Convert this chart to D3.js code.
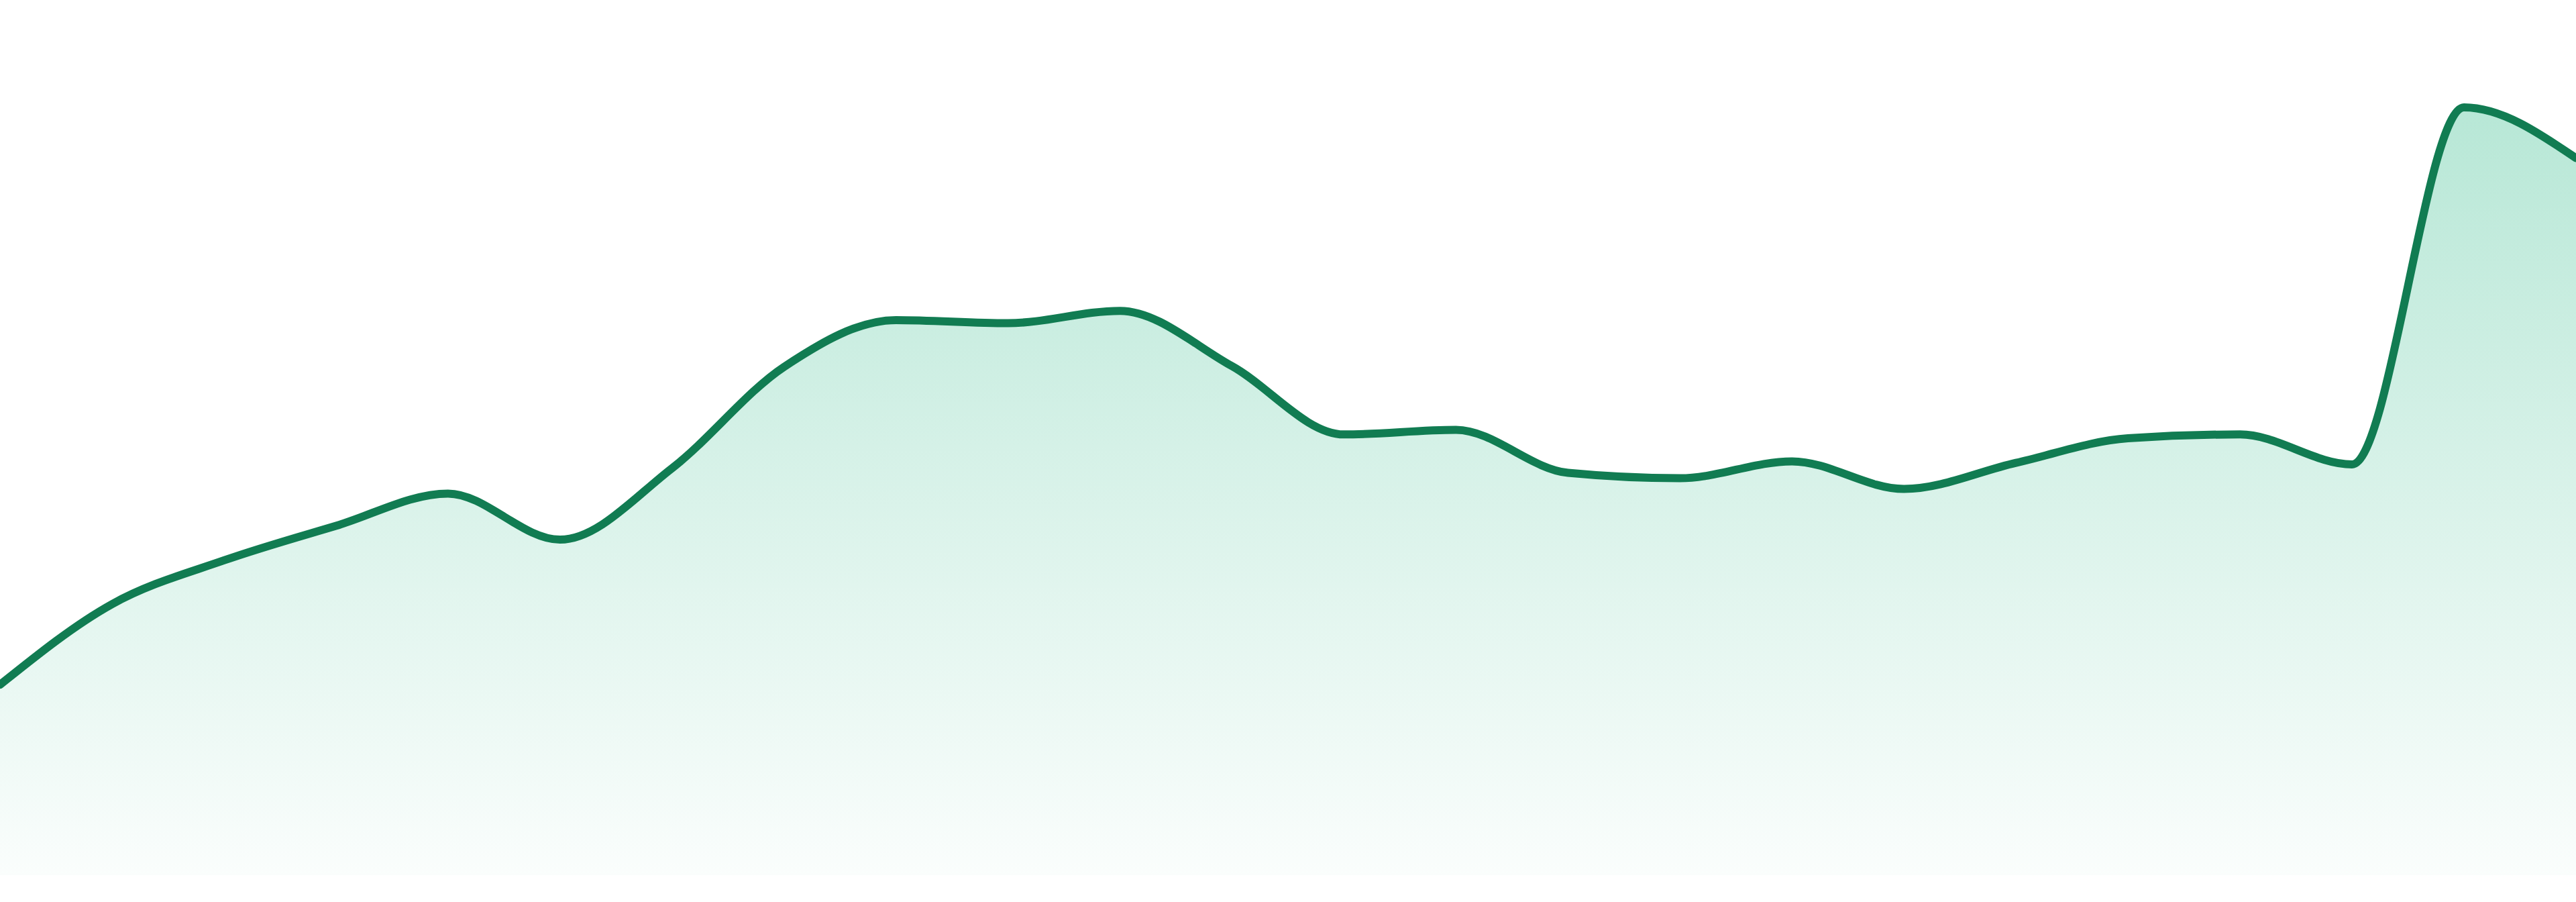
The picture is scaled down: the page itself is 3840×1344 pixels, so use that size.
<!DOCTYPE html>
<html>
<head>
<meta charset="utf-8">
<script src="https://cdn.jsdelivr.net/npm/d3@7"></script>
<style>
  html, body { margin: 0; padding: 0; background: #fff; }
  svg { display: block; }
</style>
</head>
<body>
<svg width="3840" height="1344"></svg>
<script>
// one value per period
var periods = d3.range(24);
var values = [24.8, 35.3, 41.0, 45.5, 49.7, 43.7, 53.0, 66.2, 72.3, 71.9, 73.5, 66.3,
              57.4, 58.0, 52.4, 51.7, 53.9, 50.3, 53.7, 56.9, 57.4, 53.5, 100, 93.4];
var yDomain = [0, 100];

var width = 3840, height = 1344;
var margin = {top: 160, right: 0, bottom: 40, left: 0};

var svg = d3.select("svg");

var x = d3.scaleLinear()
    .domain([0, periods.length - 1])
    .range([margin.left, width - margin.right]);

var y = d3.scaleLinear()
    .domain(yDomain)
    .range([height - margin.bottom, margin.top]);

var data = periods.map(function(p, i){ return {p: p, v: values[i]}; });

// fill gradient
var grad = svg.append("defs").append("linearGradient")
    .attr("id", "fillGrad")
    .attr("x1", 0).attr("y1", 0)
    .attr("x2", 0).attr("y2", 1);
grad.append("stop").attr("offset", "0%")
    .attr("stop-color", "#10b077").attr("stop-opacity", 0.3);
grad.append("stop").attr("offset", "100%")
    .attr("stop-color", "#10b077").attr("stop-opacity", 0.02);

var area = d3.area()
    .x(function(d){ return x(d.p); })
    .y0(y(0))
    .y1(function(d){ return y(d.v); })
    .curve(d3.curveMonotoneX);

var line = d3.line()
    .x(function(d){ return x(d.p); })
    .y(function(d){ return y(d.v); })
    .curve(d3.curveMonotoneX);

svg.append("path")
    .datum(data)
    .attr("d", area)
    .style("fill", "url(#fillGrad)");

svg.append("path")
    .datum(data)
    .attr("d", line)
    .style("fill", "none")
    .style("stroke", "#117c52")
    .style("stroke-width", 12)
    .style("stroke-linejoin", "round")
    .style("stroke-linecap", "round");
</script>
</body>
</html>
